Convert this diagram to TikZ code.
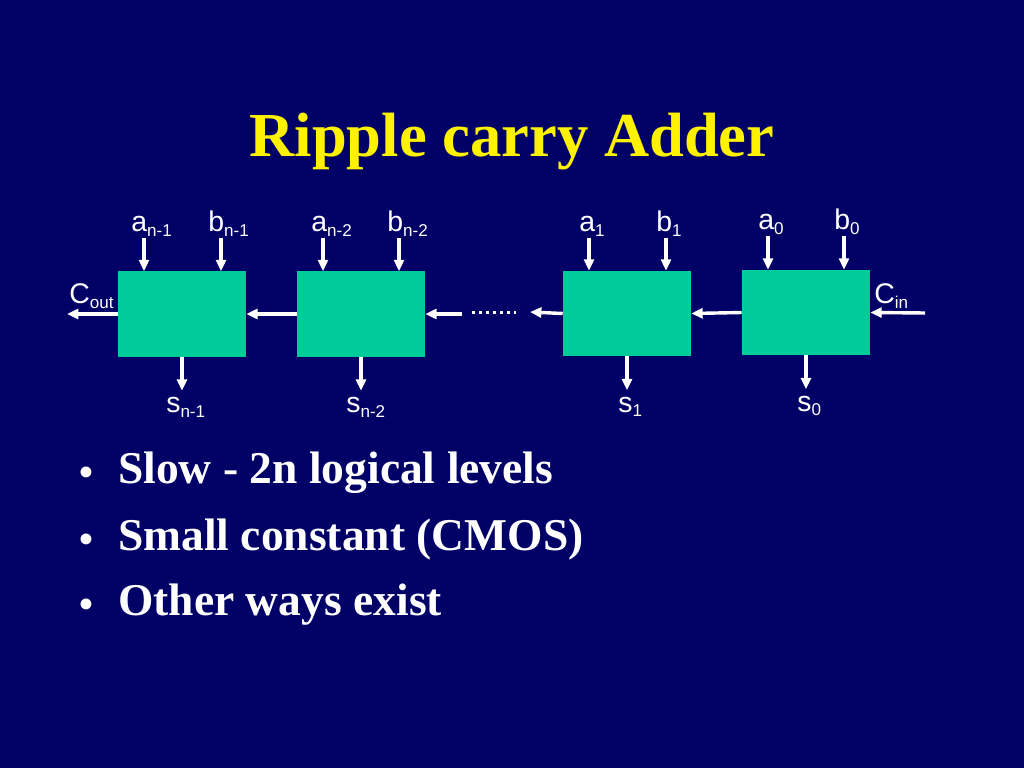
\documentclass[tikz,border=0pt]{standalone}
\usepackage{fontspec}
\setmainfont{Liberation Serif}
\newfontfamily\arialfont{Liberation Sans}
\usepackage{xcolor}
\usetikzlibrary{arrows.meta, calc}

\definecolor{slidebg}{RGB}{0,0,102}
\definecolor{cellfill}{RGB}{0,204,153}
\newcommand\lowsub[1]{\raisebox{-3pt}{\fontsize{12}{12}\selectfont #1}}

\begin{document}
\begin{tikzpicture}[
  x=0.703125pt, y=-0.703125pt,
  cellbox/.style   = {fill=cellfill, inner sep=0pt,
                      minimum width=90pt, minimum height=59.8pt},
  wire/.style      = {draw=white, line width=2.4pt,
                      -{Triangle[length=8pt, width=7pt]}},
  pinlbl/.style    = {font=\arialfont\fontsize{20}{24}\selectfont,
                      text=white, inner sep=0pt, anchor=base west},
  head/.style      = {font=\bfseries\fontsize{44}{50}\selectfont,
                      text=yellow, inner sep=0pt, anchor=base},
  bulletdot/.style = {font=\fontsize{32}{38}\selectfont,
                      text=white, inner sep=0pt, anchor=base},
  bullettxt/.style = {font=\bfseries\fontsize{32}{38}\selectfont,
                      text=white, inner sep=0pt, anchor=base west},
]

%% ── slide ───────────────────────────────────────────────────────────────────
\fill[slidebg] (0,0) rectangle (1024,768);
\useasboundingbox (0,0) rectangle (1024,768);

\node[head] (title) at (512,157) {Ripple carry Adder};

%% ── full adder cells ─────────────────────────────────────────────────────────
\node[cellbox] (cN1) at (182,314)   {};
\node[cellbox] (cN2) at (361,314)   {};
\node[cellbox] (c1)  at (627,313.5) {};
\node[cellbox] (c0)  at (806,312.5) {};

%% ── a, b inputs and s outputs ────────────────────────────────────────────────
\foreach \c/\ax/\bx/\ty/\sub/\dx/\sdx in
    {cN1/144/221/238/n-1/13/16, cN2/323/399/238/n-2/12/15,
     c1/589/666/238/1/10/9,     c0/768/844/236/0/10/9}{
  \coordinate (\c-a) at (\ax,\ty);
  \coordinate (\c-b) at (\bx,\ty);
  \coordinate (\c-s) at ($(\c.south)+(0,34)$);
  \draw[wire] (\c-a) -- (\c-a |- \c.north);
  \draw[wire] (\c-b) -- (\c-b |- \c.north);
  \draw[wire] (\c.south) -- (\c-s);
  \node[pinlbl] (\c-la) at ($(\c-a)+(-\dx,-6)$)  {a\lowsub{\sub}};
  \node[pinlbl] (\c-lb) at ($(\c-b)+(-\dx,-6)$)  {b\lowsub{\sub}};
  \node[pinlbl] (\c-ls) at ($(\c-s)+(-\sdx,22)$) {s\lowsub{\sub}};
}

%% ── carry chain ──────────────────────────────────────────────────────────────
\coordinate (coutend)  at (67,314);
\coordinate (gapin)    at (462,314);
\coordinate (dotsL)    at (472,312.5);
\coordinate (dotsR)    at (516,312.5);
\coordinate (gapout)   at (530,312);
\coordinate (cinstart) at (925,313);

\draw[wire] (cN1.west) -- (coutend);
\draw[wire] (cN2.west) -- (cN1.east);
\draw[wire] (gapin) -- (cN2.east);
\draw[white, line width=2.4pt, dash pattern=on 2.1pt off 2.8pt] (dotsL) -- (dotsR);
\draw[wire] (c1.west) -- (gapout);
\draw[wire] (c0.west) -- (c1.east);
\draw[wire] (cinstart) -- (c0.east);

\node[pinlbl] (coutlbl) at (69,304)  {C\lowsub{out}};
\node[pinlbl] (cinlbl)  at (874,304) {C\lowsub{in}};

%% ── bullets ──────────────────────────────────────────────────────────────────
\foreach \y/\t [count=\i] in {483/Slow - 2n logical levels,
                              550/Small constant (CMOS),
                              615/Other ways exist}{
  \node[bulletdot] (dot\i)  at (86.5,\y+4) {\textbullet};
  \node[bullettxt] (item\i) at (118,\y)    {\t};
}

\end{tikzpicture}
\end{document}
